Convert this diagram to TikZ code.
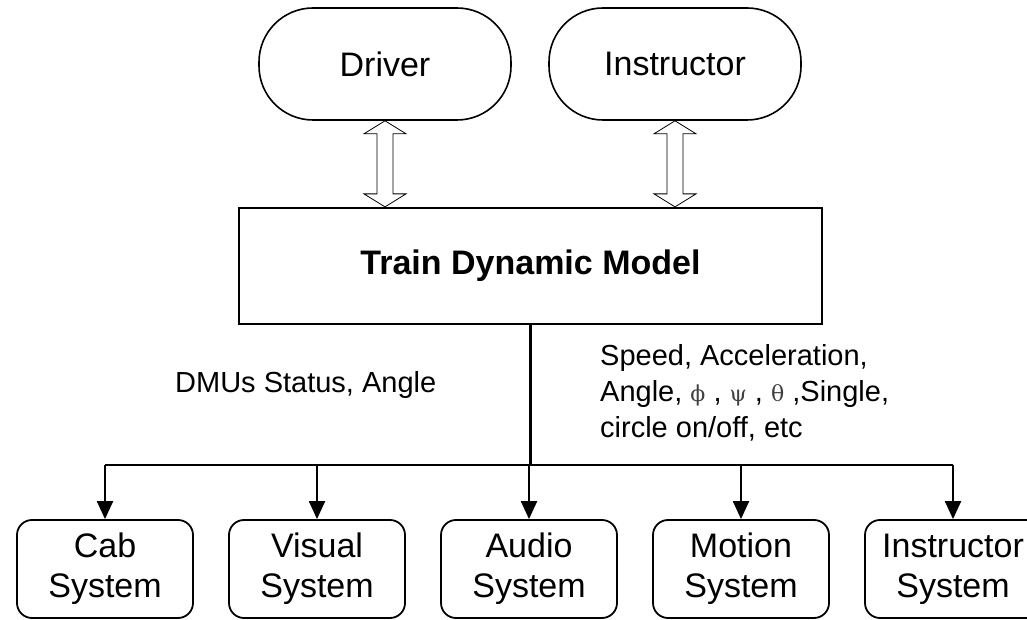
\documentclass[tikz,border=0pt]{standalone}
\usepackage{fontspec}
\setmainfont{Liberation Sans}
\newfontfamily\grkfont{DejaVu Serif}
\usetikzlibrary{positioning,calc,arrows.meta}

\newcommand{\grk}[1]{{\grkfont\fontsize{22}{35}\selectfont\color{black!75}#1}}

\tikzset{
  actor/.style={draw,line width=1.6pt,rounded corners=54pt,minimum width=252pt,minimum height=112pt,font=\fontsize{34}{40}\selectfont},
  model/.style={draw,line width=2.2pt,minimum width=583pt,minimum height=116pt,font=\fontsize{34}{40}\selectfont\bfseries},
  subsys/.style={draw,line width=1.8pt,rounded corners=15pt,minimum width=176pt,minimum height=98pt,align=center,font=\fontsize{34}{40}\selectfont},
  info/.style={inner sep=0pt,align=left,font=\fontsize{29}{36}\selectfont},
  bus/.style={line width=2.2pt},
  feed/.style={bus,-{Triangle[length=18pt,width=16pt]}},
  dblarrow/.style={draw,line width=0.8pt,fill=white,to path={let \p1=(\tikztostart),\p2=(\tikztotarget) in
    (\x1,\y1) -- (\x1-21pt,\y1-13pt) -- (\x1-8pt,\y1-13pt) -- (\x1-8pt,\y2+13pt) -- (\x1-21pt,\y2+13pt)
    -- (\x1,\y2) -- (\x1+21pt,\y2+13pt) -- (\x1+8pt,\y2+13pt) -- (\x1+8pt,\y1-13pt) -- (\x1+21pt,\y1-13pt) -- cycle}}
}

\begin{document}
\begin{tikzpicture}[x=1pt,y=1pt,node distance=212pt,on grid]
\useasboundingbox (0,0) rectangle (1027,620);

% people and the model
\node[actor] (drv) at (385,556) {Driver};
\node[actor] (ins) at (675,556) {Instructor};
\node[model] (tdm) at (530.5,354) {Train Dynamic Model};

% sub systems
\node[subsys] (cab) at (105,51) {Cab\\System};
\node[subsys] (vis) [right=of cab] {Visual\\System};
\node[subsys] (aud) [right=of vis] {Audio\\System};
\node[subsys] (mot) [right=of aud] {Motion\\System};
\node[subsys] (isys) [right=of mot] {Instructor\\System};

\path (tdm.south) ++(0,-140) coordinate (hub);

% labels
\node[info,anchor=west] (dmu) at (175,235) {DMUs Status, Angle};
\node[info,anchor=west] (sig) at (600,227) {Speed, Acceleration,\\Angle, \grk{ϕ} , \grk{ψ} , \grk{θ} ,Single,\\circle on/off, etc};

\draw[dblarrow] (drv.south) to (drv.south |- tdm.north);
\draw[dblarrow] (ins.south) to (ins.south |- tdm.north);

\draw[bus] (tdm.south) -- (hub);
\draw[bus] (cab.north |- hub) -- (isys.north |- hub);
\foreach \s in {cab,vis,aud,mot,isys}
  \draw[feed] (\s.north |- hub) -- (\s.north);
\end{tikzpicture}
\end{document}
